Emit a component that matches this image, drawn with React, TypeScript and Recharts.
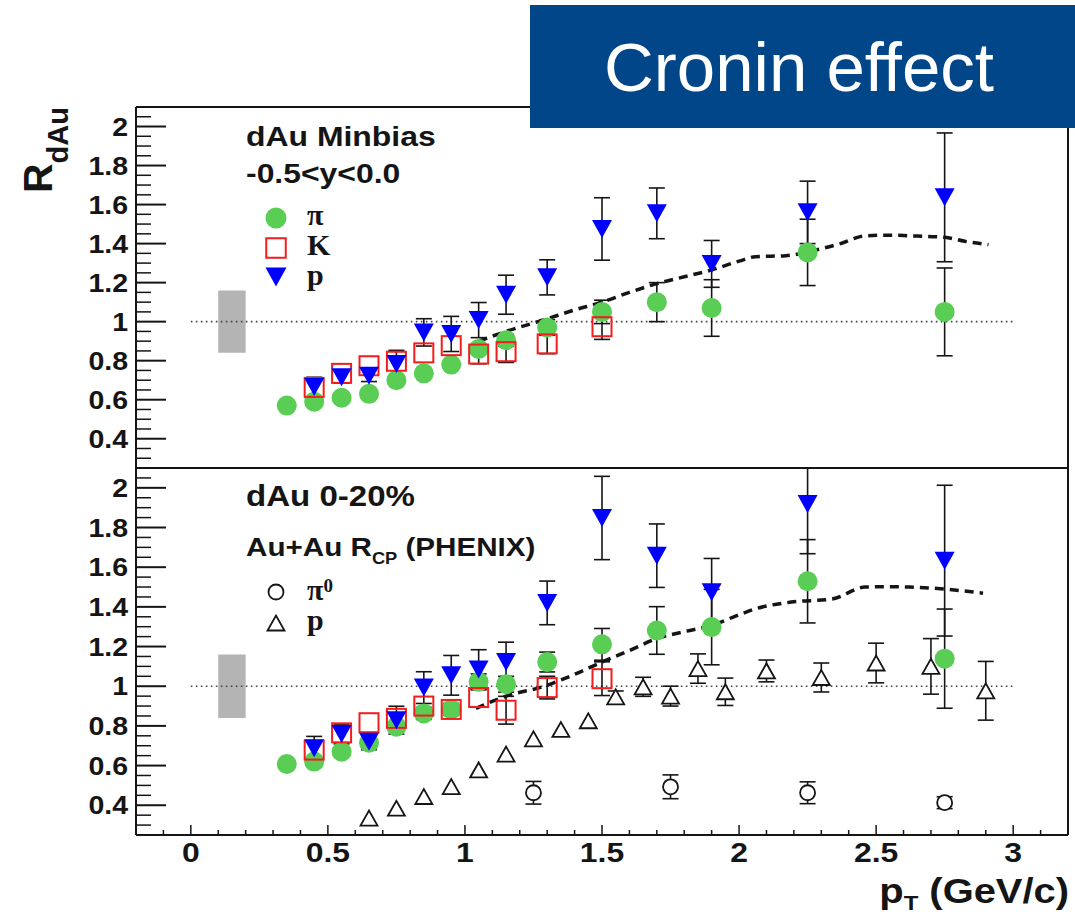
import React from 'react';
import { ScatterChart, Scatter, XAxis, YAxis, ErrorBar, ReferenceArea, ReferenceLine } from 'recharts';

const SANS = '"Liberation Sans", Arial, Helvetica, sans-serif';
const SERIF = '"Liberation Serif", "Times New Roman", serif';
const INK = '#151515';
const GREEN = '#5acd55';
const RED = '#f21d1d';
const BLUE = '#0000ff';
const BAND = '#b4b4b4';
const STRETCH = 1.14;

// ---- binning (GeV/c) ----
const ptPion = [0.35, 0.45, 0.55, 0.65, 0.75, 0.85, 0.95, 1.05, 1.15, 1.3, 1.5, 1.7, 1.9, 2.25, 2.75];
const ptKaon = [0.45, 0.55, 0.65, 0.75, 0.85, 0.95, 1.05, 1.15, 1.3, 1.5];
const ptProton = [0.45, 0.55, 0.65, 0.75, 0.85, 0.95, 1.05, 1.15, 1.3, 1.5, 1.7, 1.9, 2.25, 2.75];

// ---- dAu minbias, -0.5<y<0.0 ----
const pionMB = [0.57, 0.59, 0.61, 0.63, 0.7, 0.735, 0.78, 0.86, 0.905, 0.97, 1.05, 1.1, 1.07, 1.355, 1.05];
const pionMBErr = [0.01, 0.01, 0.01, 0.01, 0.02, 0.02, 0.02, 0.02, 0.03, 0.04, 0.06, 0.1, 0.145, 0.17, 0.225];
const kaonMB = [0.663, 0.735, 0.774, 0.797, 0.84, 0.877, 0.834, 0.846, 0.886, 0.974];
const kaonMBErr = [0.02, 0.02, 0.02, 0.03, 0.03, 0.04, 0.05, 0.055, 0.05, 0.065];
const protonMB = [0.665, 0.715, 0.723, 0.783, 0.945, 0.937, 1.008, 1.138, 1.227, 1.475, 1.555, 1.296, 1.56, 1.637];
const protonMBErr = [0.05, 0.03, 0.03, 0.07, 0.07, 0.09, 0.09, 0.1, 0.09, 0.16, 0.13, 0.12, 0.16, 0.33];
const modelMBPt = [1.05, 1.15, 1.29, 1.4, 1.5, 1.6, 1.7, 1.8, 1.9, 2.0, 2.06, 2.17, 2.28, 2.37, 2.46, 2.55, 2.62, 2.75, 2.83, 2.91];
const modelMB = [0.9, 0.95, 1.01, 1.06, 1.1, 1.15, 1.195, 1.23, 1.265, 1.31, 1.333, 1.338, 1.367, 1.4, 1.44, 1.443, 1.44, 1.432, 1.41, 1.395];

// ---- dAu 0-20% ----
const pionC = [0.608, 0.62, 0.67, 0.715, 0.796, 0.863, 0.883, 1.022, 1.01, 1.122, 1.211, 1.281, 1.298, 1.529, 1.139];
const pionCErr = [0.01, 0.01, 0.02, 0.02, 0.02, 0.03, 0.03, 0.04, 0.04, 0.05, 0.08, 0.12, 0.19, 0.21, 0.25];
const kaonC = [0.678, 0.765, 0.816, 0.838, 0.9, 0.883, 0.943, 0.879, 0.993, 1.038];
const kaonCErr = [0.03, 0.04, 0.03, 0.04, 0.04, 0.04, 0.04, 0.07, 0.057, 0.085];
const protonC = [0.687, 0.759, 0.72, 0.829, 0.993, 1.055, 1.084, 1.122, 1.42, 1.848, 1.658, 1.474, 1.918, 1.633];
const protonCErr = [0.06, 0.05, 0.04, 0.07, 0.08, 0.1, 0.1, 0.1, 0.11, 0.21, 0.16, 0.17, 0.25, 0.38];
const modelCPt = [1.04, 1.15, 1.29, 1.4, 1.5, 1.6, 1.7, 1.8, 1.9, 2.0, 2.06, 2.19, 2.34, 2.46, 2.55, 2.62, 2.75, 2.82, 2.89];
const modelC = [0.888, 0.95, 1.0, 1.06, 1.122, 1.18, 1.24, 1.275, 1.307, 1.36, 1.39, 1.424, 1.44, 1.5, 1.502, 1.5, 1.49, 1.48, 1.469];

// ---- Au+Au R_CP (PHENIX) ----
const ptPi0 = [1.25, 1.75, 2.25, 2.75];
const pi0Rcp = [0.463, 0.493, 0.463, 0.413];
const pi0RcpErr = [0.057, 0.06, 0.055, 0.03];
const ptProtonAuAu = [0.65, 0.75, 0.85, 0.95, 1.05, 1.15, 1.25, 1.35, 1.45, 1.55, 1.65, 1.75, 1.85, 1.95, 2.1, 2.3, 2.5, 2.7, 2.9];
const protonRcp = [0.335, 0.385, 0.444, 0.494, 0.578, 0.658, 0.735, 0.782, 0.826, 0.946, 0.997, 0.95, 1.089, 0.972, 1.077, 1.044, 1.117, 1.1, 0.977];
const protonRcpErr = [0.02, 0.02, 0.02, 0.02, 0.02, 0.02, 0.02, 0.02, 0.02, 0.03, 0.048, 0.05, 0.074, 0.069, 0.055, 0.073, 0.1, 0.14, 0.148];

// normalisation uncertainty box and unity line
const normBox = { x1: 0.1, x2: 0.2, y1: 0.84, y2: 1.16 };
const unityFrom = 0;
const unityTo = 3;

// ---- axes ----
const X_DOMAIN: [number, number] = [-0.2, 3.2];
const Y_DOMAIN: [number, number] = [0.25, 2.1];
const xLabels = [0, 0.5, 1, 1.5, 2, 2.5, 3];
const yLabels = [0.4, 0.6, 0.8, 1, 1.2, 1.4, 1.6, 1.8, 2];
const xTicks: number[] = [];
for (let i = -1; i <= 31; i++) xTicks.push(i / 10);
const yTicks: number[] = [];
for (let i = 6; i <= 41; i++) yTicks.push((i * 5) / 100);

type Pt = { x: number; y: number; e: number };
const pts = (xs: number[], ys: number[], es?: number[]): Pt[] =>
  xs.map((x, i) => ({ x, y: ys[i], e: es ? es[i] : 0 }));
// bars shorter than the marker are hidden under it anyway
const barsOnly = (d: Pt[], min: number) => d.filter((p) => p.e >= min);

const AXIS_LINE = { stroke: INK, strokeWidth: 2 };

function Wide({ x, y, size, anchor = 'start', weight = 'bold', family = SANS, fill = INK, children }: any) {
  return (
    <text
      transform={`translate(${x},${y}) scale(${STRETCH},1)`}
      fontSize={size}
      fontWeight={weight}
      fontFamily={family}
      textAnchor={anchor}
      fill={fill}
    >
      {children}
    </text>
  );
}

// ROOT style ticks: drawn inwards from the axis line
function YTick(props: any) {
  const { x, y, payload } = props;
  const major = yLabels.includes(payload.value);
  return (
    <g>
      <line x1={x} x2={x + (major ? 30 : 15)} y1={y} y2={y} stroke={INK} strokeWidth={major ? 2 : 1.5} />
      {major && (
        <Wide x={x - 8} y={y + 9} size={25} anchor="end">
          {String(payload.value)}
        </Wide>
      )}
    </g>
  );
}

function XTick(props: any) {
  const { x, y, payload, labels } = props;
  const major = xLabels.includes(payload.value);
  return (
    <g>
      <line x1={x} x2={x} y1={y} y2={y - (major ? 10 : 5)} stroke={INK} strokeWidth={1.5} />
      {labels && major && (
        <Wide x={x} y={y + 27} size={28} anchor="middle">
          {String(payload.value)}
        </Wide>
      )}
    </g>
  );
}

// markers
const Dot = ({ cx, cy, r = 10 }: any) => <circle cx={cx} cy={cy} r={r} fill={GREEN} />;
const Square = ({ cx, cy, s = 19 }: any) => (
  <rect x={cx - s / 2} y={cy - s / 2} width={s} height={s} fill="none" stroke={RED} strokeWidth={2} />
);
const TriDown = ({ cx, cy, w = 20, h = 18 }: any) => (
  <polygon points={`${cx - w / 2},${cy - h / 2} ${cx + w / 2},${cy - h / 2} ${cx},${cy + h / 2}`} fill={BLUE} />
);
const Ring = ({ cx, cy }: any) => <circle cx={cx} cy={cy} r={7.5} fill="#fff" stroke={INK} strokeWidth={1.8} />;
const TriUp = ({ cx, cy }: any) => (
  <polygon
    points={`${cx - 8.5},${cy + 7.5} ${cx + 8.5},${cy + 7.5} ${cx},${cy - 7.5}`}
    fill="#fff"
    stroke={INK}
    strokeWidth={1.8}
  />
);
const Nothing = () => <g />;

// error bars first, then the markers on top of them
function series(id: string, data: Pt[], Shape: any, minBar = 0.03) {
  return [
    <Scatter key={id + '-err'} data={barsOnly(data, minBar)} shape={Nothing} isAnimationActive={false}>
      <ErrorBar dataKey="e" direction="y" width={8} stroke={INK} strokeWidth={1.6} />
    </Scatter>,
    <Scatter key={id} data={data} shape={Shape} isAnimationActive={false} />,
  ];
}

function frameAndGuides(curve: Pt[]) {
  return [
    <ReferenceLine key="top" y={Y_DOMAIN[1]} stroke={INK} strokeWidth={2} />,
    <ReferenceLine key="right" x={X_DOMAIN[1]} stroke={INK} strokeWidth={2} />,
    <ReferenceArea
      key="box"
      x1={normBox.x1}
      x2={normBox.x2}
      y1={normBox.y1}
      y2={normBox.y2}
      fill={BAND}
      fillOpacity={1}
      stroke="none"
    />,
    <ReferenceLine
      key="unity"
      segment={[
        { x: unityFrom, y: 1 },
        { x: unityTo, y: 1 },
      ]}
      stroke="#444"
      strokeWidth={1.6}
      strokeDasharray="1.6 3.4"
    />,
    <Scatter
      key="model"
      data={curve}
      shape={Nothing}
      line={{ stroke: INK, strokeWidth: 3.5, strokeDasharray: '9 6' }}
      lineJointType="monotoneX"
      isAnimationActive={false}
    />,
  ];
}

export default function App() {
  return (
    <div style={{ position: 'absolute', left: 0, top: 0, width: 1075, height: 916, background: '#fff', fontFamily: SANS }}>
      {/* dAu minimum bias */}
      <div style={{ position: 'absolute', left: 0, top: 0 }}>
        <ScatterChart width={1075} height={478} margin={{ top: 107, right: 7, bottom: 10, left: 0 }}>
          <XAxis
            type="number"
            dataKey="x"
            domain={X_DOMAIN}
            allowDataOverflow
            ticks={xTicks}
            interval={0}
            tickSize={0}
            tickMargin={0}
            tickLine={false}
            height={0}
            axisLine={AXIS_LINE}
            tick={(p: any) => <XTick {...p} labels={false} />}
          />
          <YAxis
            type="number"
            dataKey="y"
            domain={Y_DOMAIN}
            allowDataOverflow
            ticks={yTicks}
            interval={0}
            tickSize={0}
            tickMargin={0}
            tickLine={false}
            width={136}
            axisLine={AXIS_LINE}
            tick={(p: any) => <YTick {...p} />}
          />
          {frameAndGuides(pts(modelMBPt, modelMB))}
          {series('pi-mb', pts(ptPion, pionMB, pionMBErr), Dot)}
          {series('k-mb', pts(ptKaon, kaonMB, kaonMBErr), Square, 0.05)}
          {series('p-mb', pts(ptProton, protonMB, protonMBErr), TriDown)}
        </ScatterChart>
      </div>

      {/* dAu 0-20% with Au+Au R_CP; the svg edge clips bars running past the top frame */}
      <div style={{ position: 'absolute', left: 0, top: 467 }}>
        <ScatterChart width={1075} height={449} margin={{ top: 1, right: 7, bottom: 0, left: 0 }}>
          <XAxis
            type="number"
            dataKey="x"
            domain={X_DOMAIN}
            allowDataOverflow
            ticks={xTicks}
            interval={0}
            tickSize={0}
            tickMargin={0}
            tickLine={false}
            height={81}
            axisLine={AXIS_LINE}
            tick={(p: any) => <XTick {...p} labels />}
          />
          <YAxis
            type="number"
            dataKey="y"
            domain={Y_DOMAIN}
            allowDataOverflow
            ticks={yTicks}
            interval={0}
            tickSize={0}
            tickMargin={0}
            tickLine={false}
            width={136}
            axisLine={AXIS_LINE}
            tick={(p: any) => <YTick {...p} />}
          />
          {frameAndGuides(pts(modelCPt, modelC))}
          {series('pi0-auau', pts(ptPi0, pi0Rcp, pi0RcpErr), Ring)}
          {series('p-auau', pts(ptProtonAuAu, protonRcp, protonRcpErr), TriUp)}
          {series('pi-c', pts(ptPion, pionC, pionCErr), Dot)}
          {series('k-c', pts(ptKaon, kaonC, kaonCErr), Square, 0.05)}
          {series('p-c', pts(ptProton, protonC, protonCErr), TriDown)}
        </ScatterChart>
      </div>

      {/* titles, legends and panel captions */}
      <svg width={1075} height={916} style={{ position: 'absolute', left: 0, top: 0, pointerEvents: 'none' }}>
        <text transform="translate(51.7,193) rotate(-90)" fontFamily={SANS} fontWeight="bold" fontSize={41} fill={INK}>
          R
          <tspan dy={16} fontSize={29}>
            dAu
          </tspan>
        </text>
        <Wide x={1069} y={903} size={35} anchor="end">
          p
          <tspan dy={7} fontSize={21}>
            T
          </tspan>
          <tspan dy={-7}> (GeV/c)</tspan>
        </Wide>

        <Wide x={246} y={146} size={28}>dAu Minbias</Wide>
        <Wide x={246} y={183} size={28}>-0.5&lt;y&lt;0.0</Wide>
        <Dot cx={276} cy={218} r={10.5} />
        <Square cx={276} cy={248} s={19.5} />
        <TriDown cx={276} cy={277} w={21} h={19} />
        <text x={307} y={225} fontFamily={SERIF} fontWeight="bold" fontSize={30} fill={INK}>π</text>
        <text x={307} y={255} fontFamily={SERIF} fontWeight="bold" fontSize={30} fill={INK}>K</text>
        <text x={307} y={285} fontFamily={SERIF} fontWeight="bold" fontSize={30} fill={INK}>p</text>

        <Wide x={246} y={506} size={29}>dAu 0-20%</Wide>
        <Wide x={246} y={556} size={26}>
          Au+Au R
          <tspan dy={8} fontSize={16}>
            CP
          </tspan>
          <tspan dy={-8}> (PHENIX)</tspan>
        </Wide>
        <Ring cx={276} cy={592} />
        <TriUp cx={276} cy={623} />
        <text x={307} y={600} fontFamily={SERIF} fontWeight="bold" fontSize={30} fill={INK}>
          π
          <tspan dy={-8} fontSize={19}>
            0
          </tspan>
        </text>
        <text x={307} y={630} fontFamily={SERIF} fontWeight="bold" fontSize={30} fill={INK}>p</text>

        <rect x={530} y={5} width={545} height={123} fill="#02468a" />
        <text x={799} y={91} textAnchor="middle" fontFamily={SANS} fontSize={69} fill="#fff">
          Cronin effect
        </text>
      </svg>
    </div>
  );
}
